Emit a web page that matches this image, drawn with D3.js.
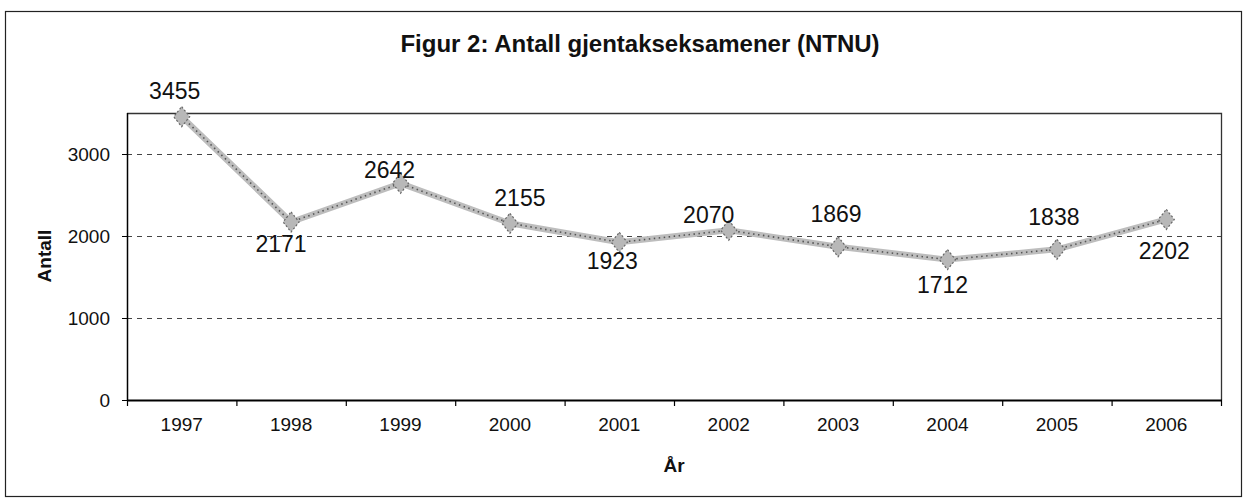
<!DOCTYPE html>
<html>
<head>
<meta charset="utf-8">
<script src="https://cdn.jsdelivr.net/npm/d3@7"></script>
<style>
  html, body { margin: 0; padding: 0; background: #fff; }
  svg { display: block; font-family: "Liberation Sans", Arial, sans-serif; }
</style>
</head>
<body>
<svg id="chart" width="1248" height="498"></svg>
<script>
// data
const years = ["1997", "1998", "1999", "2000", "2001", "2002", "2003", "2004", "2005", "2006"];
const exams = [3455, 2171, 2642, 2155, 1923, 2070, 1869, 1712, 1838, 2202];
const yTicks = [0, 1000, 2000, 3000];

// label placement (pixel offset from the point, as in the original chart)
const labelOffsets = [
    [-7, -18], [-10, 30], [-11, -5], [10, -17], [-7, 27],
    [-20, -7], [-2, -25], [-5, 33], [-3, -24], [-2, 40]
];

const width = 1248, height = 498;
const margin = { top: 113, right: 27, bottom: 98, left: 127 };

const svg = d3.select("svg#chart");
svg.selectAll("*").remove();

// outer frame
svg.append("rect")
    .attr("x", 5.5).attr("y", 11.5)
    .attr("width", 1236).attr("height", 485)
    .attr("fill", "none").attr("stroke", "#222").attr("stroke-width", 1.2);

const x = d3.scaleBand()
    .domain(years)
    .range([margin.left, width - margin.right])
    .padding(0);

const y = d3.scaleLinear()
    .domain([0, 3500])
    .range([height - margin.bottom, margin.top]);

const data = years.map((yr, i) => ({ year: yr, value: exams[i] }));
const cx = d => x(d.year) + x.bandwidth() / 2;

// dashed grid lines
svg.append("g")
    .selectAll("line")
    .data(yTicks.filter(t => t > 0))
    .join("line")
    .attr("x1", margin.left).attr("x2", width - margin.right)
    .attr("y1", d => y(d) + 0.5).attr("y2", d => y(d) + 0.5)
    .attr("stroke", "#444")
    .attr("stroke-width", 1)
    .attr("stroke-dasharray", "5,5");

// plot frame top/right
svg.append("path")
    .attr("d", `M${margin.left},${y(3500) + 0.5}H${width - margin.right + 0.5}V${y(0)}`)
    .attr("fill", "none")
    .attr("stroke", "#333")
    .attr("stroke-width", 1.3);

// y axis
svg.append("g")
    .attr("transform", `translate(${margin.left},0)`)
    .call(d3.axisLeft(y).tickValues(yTicks).tickFormat(d3.format("d"))
        .tickSize(5).tickPadding(12).tickSizeOuter(0))
    .call(g => g.select(".domain").attr("stroke", "#000").attr("stroke-width", 1.5)
        .attr("d", `M0.5,${y(3500)}V${y(0)}`))
    .call(g => g.selectAll(".tick line").attr("stroke", "#000"))
    .call(g => g.selectAll("text").attr("font-size", 19).attr("fill", "#111")
        .attr("font-family", "Liberation Sans, Arial, sans-serif"));

// x axis: labels in band centres, ticks on band edges
const xAxis = svg.append("g")
    .attr("transform", `translate(0,${y(0)})`)
    .call(d3.axisBottom(x).tickSize(0).tickPadding(18))
    .call(g => g.select(".domain").remove())
    .call(g => g.selectAll("text").attr("font-size", 19).attr("fill", "#111")
        .attr("font-family", "Liberation Sans, Arial, sans-serif"));

xAxis.append("line")
    .attr("x1", margin.left).attr("x2", width - margin.right + 1)
    .attr("y1", 0.5).attr("y2", 0.5)
    .attr("stroke", "#000").attr("stroke-width", 2);

xAxis.append("g")
    .selectAll("line")
    .data(years.concat(["end"]))
    .join("line")
    .attr("x1", (d, i) => i < years.length ? x(d) + 0.5 : x(years[years.length - 1]) + x.bandwidth() + 0.5)
    .attr("x2", (d, i) => i < years.length ? x(d) + 0.5 : x(years[years.length - 1]) + x.bandwidth() + 0.5)
    .attr("y1", 0).attr("y2", 6)
    .attr("stroke", "#000").attr("stroke-width", 1.2);

// series line
const line = d3.line().x(cx).y(d => y(d.value));
svg.append("path")
    .datum(data)
    .attr("fill", "none")
    .attr("stroke", "#bdbdbd")
    .attr("stroke-width", 6)
    .attr("stroke-linejoin", "round")
    .attr("d", line);
svg.append("path")
    .datum(data)
    .attr("fill", "none")
    .attr("stroke", "#555")
    .attr("stroke-width", 1.6)
    .attr("stroke-dasharray", "1.5,3.5")
    .attr("d", line);

// diamond markers
svg.append("g")
    .selectAll("path")
    .data(data)
    .join("path")
    .attr("transform", d => `translate(${cx(d)},${y(d.value)})`)
    .attr("d", "M0,-10L8,0L0,10L-8,0Z")
    .attr("fill", "#b8b8b8")
    .attr("stroke", "#666")
    .attr("stroke-width", 1.2)
    .attr("stroke-dasharray", "2,2");

// value labels
svg.append("g")
    .selectAll("text")
    .data(data)
    .join("text")
    .attr("x", (d, i) => cx(d) + labelOffsets[i][0])
    .attr("y", (d, i) => y(d.value) + labelOffsets[i][1])
    .attr("text-anchor", "middle")
    .attr("font-size", 23)
    .attr("fill", "#111")
    .text(d => d.value);

// title
svg.append("text")
    .attr("x", 640).attr("y", 52)
    .attr("text-anchor", "middle")
    .attr("font-size", 24)
    .attr("font-weight", 700)
    .attr("fill", "#111")
    .text("Figur 2: Antall gjentakseksamener (NTNU)");

// axis titles
svg.append("text")
    .attr("transform", "translate(51,256) rotate(-90)")
    .attr("text-anchor", "middle")
    .attr("font-size", 19)
    .attr("font-weight", 700)
    .attr("fill", "#111")
    .text("Antall");

svg.append("text")
    .attr("x", 674).attr("y", 472)
    .attr("text-anchor", "middle")
    .attr("font-size", 19)
    .attr("font-weight", 700)
    .attr("fill", "#111")
    .text("År");
</script>
</body>
</html>
